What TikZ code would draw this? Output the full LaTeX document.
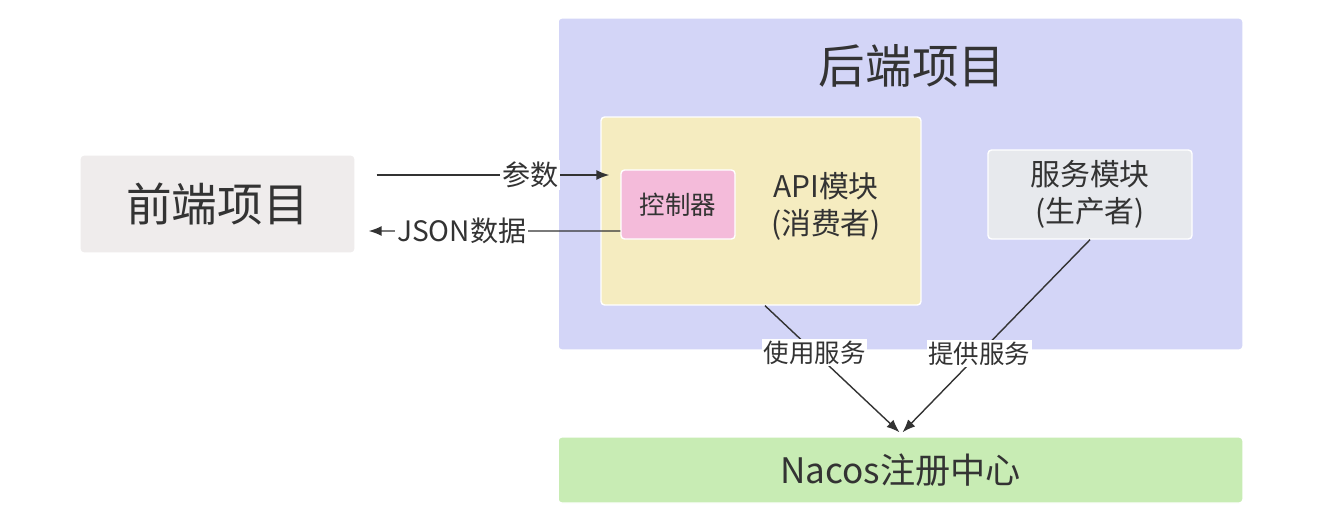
\documentclass[tikz,border=0pt]{standalone}
\usepackage{fontspec}
\setmainfont{Noto Sans CJK SC}
\definecolor{InkGray}{RGB}{51,51,51}
\definecolor{BackLav}{RGB}{211,213,247}
\definecolor{ApiSand}{RGB}{245,236,192}
\definecolor{CtrlPink}{RGB}{244,187,218}
\definecolor{SvcGray}{RGB}{231,233,237}
\definecolor{FrontGray}{RGB}{239,236,236}
\definecolor{NacosGreen}{RGB}{200,236,180}
\usetikzlibrary{arrows.meta,calc}

\begin{document}
\begin{tikzpicture}[
    x=0.02cm, y=-0.02cm, text=InkGray,
    box/.style={draw=white, line width=0.8pt, rounded corners=2pt, inner sep=0pt, align=center},
    flow/.style={-{Latex[length=2.6mm,width=2mm]}, line width=0.8pt, InkGray},
    lbl/.style={fill=white, inner sep=1pt, font=\fontsize{16}{18}\selectfont},
    sublbl/.style={lbl, font=\fontsize{14.5}{17}\selectfont}
  ]
    \useasboundingbox (0,0) rectangle (1334,518);
    \node[box,fill=BackLav,minimum width=13.7cm,minimum height=6.64cm](back) at (900.5,184){};
    \node[font=\fontsize{26.5}{30}\selectfont] (title) at (912,66){后端项目};
    \node[box,fill=ApiSand,minimum width=6.4cm,minimum height=3.76cm](api) at (761,211){};
    \node[box,fill=CtrlPink,minimum width=2.28cm,minimum height=1.38cm,font=\fontsize{14.5}{17}\selectfont](ctrl) at (678,204.5){控制器};
    \node[font=\fontsize{17}{21}\selectfont,align=center](apitxt) at (826,206){API模块\\(消费者)};
    \node[box,fill=SvcGray,minimum width=4.08cm,minimum height=1.78cm,font=\fontsize{17}{21}\selectfont](svc) at (1090,194.5){服务模块\\(生产者)};
    \node[box,fill=FrontGray,minimum width=5.5cm,minimum height=1.96cm,font=\fontsize{26}{30}\selectfont](front) at (217.5,204){前端项目};
    \node[box,fill=NacosGreen,minimum width=13.7cm,minimum height=1.32cm,font=\fontsize{20}{24}\selectfont](nacos) at (900.5,470){Nacos注册中心};
    \draw[flow]($(front.east)+(21,-29)$)--node[lbl,pos=0.66]{参数}($(ctrl.west)+(-11,-29.5)$);
    \draw[flow]($(ctrl.west)+(0,26.5)$)--node[lbl,pos=0.63]{JSON数据}($(front.east)+(13,27)$);
    \draw[flow]($(api.south)+(4,0)$)--node[sublbl,pos=0.37]{使用服务}($(nacos.north)+(-1,-4)$);
    \draw[flow](svc.south)--node[sublbl,pos=0.59]{提供服务}($(nacos.north)+(2,-4)$);
  \end{tikzpicture}
\end{document}
